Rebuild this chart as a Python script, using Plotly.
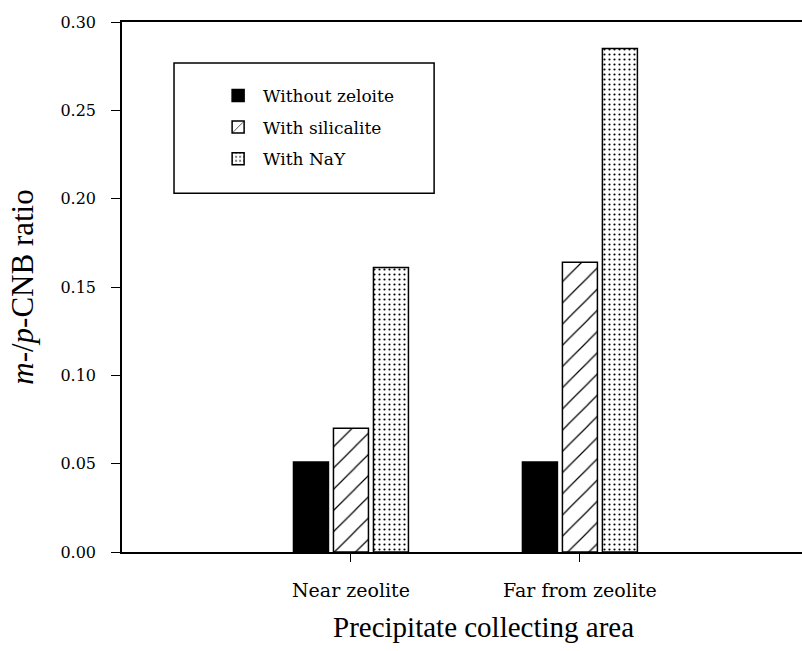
import plotly.graph_objects as go

categories = ["Near zeolite", "Far from zeolite"]
series_names = ["Without zeloite", "With silicalite", "With NaY"]
without_zeolite = [0.051, 0.051]
with_silicalite = [0.070, 0.164]
with_nay = [0.161, 0.285]
y_ticks = [0.00, 0.05, 0.10, 0.15, 0.20, 0.25, 0.30]
x_title = "Precipitate collecting area"
y_title = "<i>m</i>-/<i>p</i>-CNB ratio"

serif = "Liberation Serif, Times New Roman, serif"
wide_serif = "DejaVu Serif, serif"

fig = go.Figure()
fig.add_trace(go.Bar(
    name=series_names[0], x=categories, y=without_zeolite, legendgroup="a",
    marker=dict(color="black", line=dict(color="black", width=1.5)),
))
fig.add_trace(go.Bar(
    name=series_names[1], x=categories, y=with_silicalite, legendgroup="b",
    marker=dict(color="white", line=dict(color="black", width=1.5),
                pattern=dict(shape="/", fgcolor="black", bgcolor="white",
                             size=15, solidity=0.08, fillmode="replace")),
))
fig.add_trace(go.Bar(
    name=series_names[2], x=categories, y=with_nay, legendgroup="c",
    marker=dict(color="white", line=dict(color="black", width=1.5),
                pattern=dict(shape=".", fgcolor="black", bgcolor="white",
                             size=5, solidity=0.15, fillmode="replace")),
))

# legend frame
fig.add_shape(type="rect", xref="paper", yref="paper",
              x0=0.0765, x1=0.459, y0=0.677, y1=0.9226,
              line=dict(color="black", width=1.5), fillcolor="rgba(0,0,0,0)", layer="above")

# x-axis title (placed like the original, slightly right of plot centre)
fig.add_annotation(text=x_title, xref="paper", yref="paper", x=0.531, y=-0.1415,
                   xanchor="center", yanchor="middle", showarrow=False,
                   font=dict(size=29, family=serif, color="black"))

fig.update_layout(
    width=802, height=651,
    barmode="group", bargap=0.476, bargroupgap=0.125,
    plot_bgcolor="white", paper_bgcolor="white",
    margin=dict(l=122, r=0, t=22, b=99, autoexpand=False),
    font=dict(family=serif, color="black", size=15),
    showlegend=True,
    legend=dict(
        x=0.134, y=0.8944, xanchor="left", yanchor="top",
        borderwidth=0, bgcolor="rgba(0,0,0,0)",
        font=dict(size=17, family=wide_serif),
        traceorder="grouped", tracegroupgap=6.5, itemwidth=40,
    ),
    xaxis=dict(
        range=[-1, 1.97], showline=True, linecolor="black", linewidth=1.5,
        mirror=True, ticks="outside", ticklen=8, tickcolor="black",
        tickfont=dict(size=19, family=wide_serif), ticklabelstandoff=12,
        showgrid=False, zeroline=False, automargin=False,
    ),
    yaxis=dict(
        range=[0, 0.30], tickvals=y_ticks, tickformat=".2f",
        showline=True, linecolor="black", linewidth=1.5,
        ticks="outside", ticklen=9, tickcolor="black",
        tickfont=dict(size=16, family=wide_serif), ticklabelstandoff=12,
        title=dict(text=y_title, font=dict(size=31, family=serif), standoff=18),
        showgrid=False, zeroline=False, automargin=False,
    ),
)

fig.write_html(
    "out.html",
    config={"displayModeBar": False},
    post_script="document.body.style.margin='0';document.body.style.overflow='hidden';",
)
